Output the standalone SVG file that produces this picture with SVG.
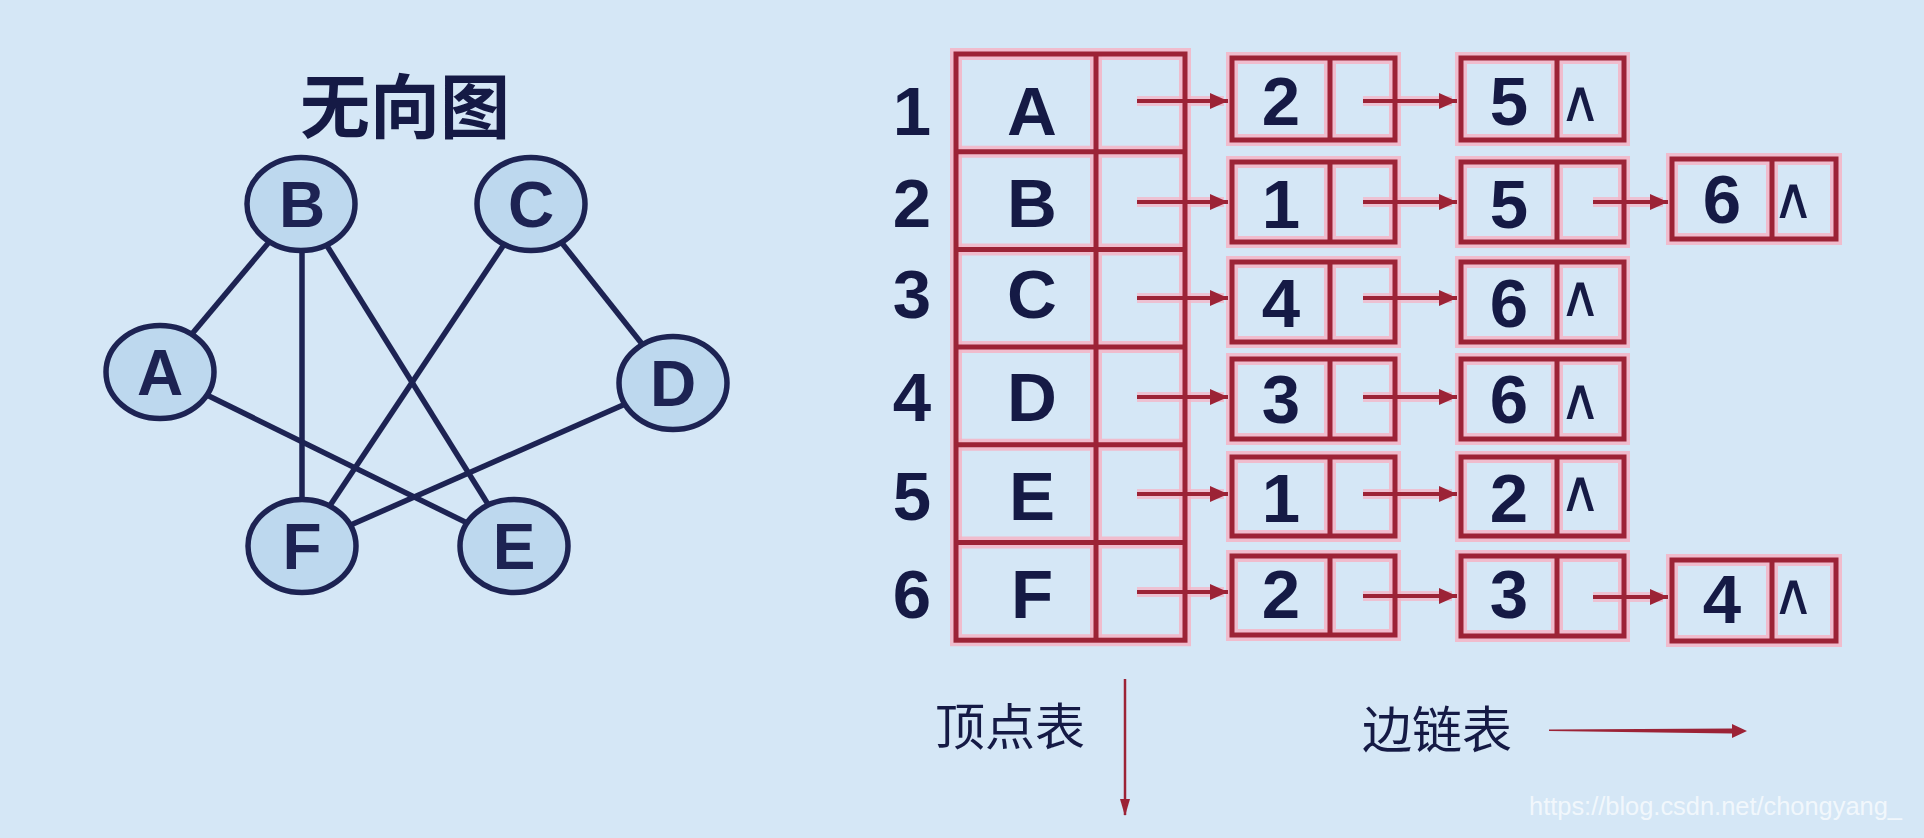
<svg xmlns="http://www.w3.org/2000/svg" width="1924" height="838" viewBox="0 0 1924 838">
<style>
.bg{fill:#d5e7f6}
.gedge{stroke:#1d2353;stroke-width:5.5;fill:none}
.gnode{fill:#bdd8ee;stroke:#1d2353;stroke-width:5.5}
.glbl{font-family:"Liberation Sans",Arial,sans-serif;font-weight:bold;font-size:64px;fill:#1d2353;text-anchor:middle}
.title{font-family:"Noto Sans CJK SC",sans-serif;font-weight:bold;font-size:70px;fill:#151a45;text-anchor:middle}
.halo{fill:none;stroke:#f4b4c5;stroke-width:12;stroke-opacity:0.85}
.cell{fill:none;stroke:#9c2336;stroke-width:5}
.txt{font-family:"Liberation Sans",Arial,sans-serif;font-weight:bold;font-size:69px;fill:#151a45;text-anchor:middle}
.nil{font-family:"DejaVu Sans",sans-serif;font-weight:200;font-size:58px;fill:#151a45;text-anchor:middle}
.ptr{stroke:#9c2336;stroke-width:4;fill:none;marker-end:url(#ah)}
.ptrhalo{stroke:#f4b4c5;stroke-width:10;stroke-opacity:0.75;fill:none}
.cap{font-family:"Noto Sans CJK SC",sans-serif;font-size:50px;fill:#151a45;text-anchor:middle}
.wm{font-family:"Liberation Sans",Arial,sans-serif;font-size:26px;fill:#ffffff;fill-opacity:0.7}
</style>
<defs>
<pattern id="stripes" width="14" height="14" patternUnits="userSpaceOnUse" patternTransform="rotate(-35)">
<rect width="14" height="14" fill="#d5e7f6"/>
<rect width="14" height="4" fill="#d0e3f3"/>
</pattern>
<marker id="ah" markerUnits="userSpaceOnUse" markerWidth="20" markerHeight="18" refX="18" refY="8" orient="auto">
<path d="M0,0 L18,8 L0,16 z" fill="#9c2336"/>
</marker>
<marker id="ahs" markerUnits="userSpaceOnUse" markerWidth="12" markerHeight="18" refX="5" refY="16" orient="0">
<path d="M0,0 L10,0 L5,17 z" fill="#9c2336"/>
</marker>
</defs>
<rect class="bg" x="0" y="0" width="1924" height="838" fill="url(#stripes)"/>

<text class="title" x="405" y="133">无向图</text>

<g id="glow">
<rect class="halo" x="956" y="54" width="229" height="586.2"/>
<path class="halo" d="M1096,54V640.2M956,151.7H1185M956,249.4H1185M956,347.1H1185M956,444.8H1185M956,542.5H1185"/>
<path class="halo" d="M1232,58h163v82h-163zM1330,58v82M1461,58h163v82h-163zM1557,58v82
M1232,162h163v80h-163zM1330,162v80M1461,162h163v80h-163zM1557,162v80M1672,159h164v80h-164zM1772,159v80
M1232,262h163v80h-163zM1330,262v80M1461,262h163v80h-163zM1557,262v80
M1232,359h163v80h-163zM1330,359v80M1461,359h163v80h-163zM1557,359v80
M1232,457h163v79h-163zM1330,457v79M1461,457h163v79h-163zM1557,457v79
M1232,556h163v79h-163zM1330,556v79M1461,556h163v80h-163zM1557,556v80M1672,560h164v81h-164zM1772,560v81"/>
<path class="ptrhalo" d="M1137,101H1224M1137,202H1224M1137,298H1224M1137,397H1224M1137,494H1224M1137,592H1224M1363,101H1452M1363,202H1452M1363,298H1452M1363,397H1452M1363,494H1452M1363,596H1452M1593,202H1663M1593,597H1663"/>
</g>

<g id="vertex-table">
<g id="vt-lines">
<rect class="cell" x="956" y="54" width="229" height="586.2"/>
<path class="cell" d="M1096,54V640.2M956,151.7H1185M956,249.4H1185M956,347.1H1185M956,444.8H1185M956,542.5H1185"/>
</g>
<g id="vt-row-1"><text class="txt" x="912" y="135">1</text><text class="txt" x="1032" y="135">A</text></g>
<g id="vt-row-2"><text class="txt" x="912" y="227">2</text><text class="txt" x="1032" y="227">B</text></g>
<g id="vt-row-3"><text class="txt" x="912" y="318">3</text><text class="txt" x="1032" y="318">C</text></g>
<g id="vt-row-4"><text class="txt" x="912" y="421">4</text><text class="txt" x="1032" y="421">D</text></g>
<g id="vt-row-5"><text class="txt" x="912" y="520">5</text><text class="txt" x="1032" y="520">E</text></g>
<g id="vt-row-6"><text class="txt" x="912" y="618">6</text><text class="txt" x="1032" y="618">F</text></g>
</g>

<g id="edge-nodes">
<g id="en-1-1"><rect class="cell" x="1232" y="58" width="163" height="82"/><line class="cell" x1="1330" y1="58" x2="1330" y2="140"/><text class="txt" x="1281" y="125">2</text></g>
<g id="en-1-2"><rect class="cell" x="1461" y="58" width="163" height="82"/><line class="cell" x1="1557" y1="58" x2="1557" y2="140"/><text class="txt" x="1509" y="125">5</text><text class="nil" x="1580" y="121">∧</text></g>
<g id="en-2-1"><rect class="cell" x="1232" y="162" width="163" height="80"/><line class="cell" x1="1330" y1="162" x2="1330" y2="242"/><text class="txt" x="1281" y="228">1</text></g>
<g id="en-2-2"><rect class="cell" x="1461" y="162" width="163" height="80"/><line class="cell" x1="1557" y1="162" x2="1557" y2="242"/><text class="txt" x="1509" y="228">5</text></g>
<g id="en-2-3"><rect class="cell" x="1672" y="159" width="164" height="80"/><line class="cell" x1="1772" y1="159" x2="1772" y2="239"/><text class="txt" x="1722" y="223">6</text><text class="nil" x="1793" y="218">∧</text></g>
<g id="en-3-1"><rect class="cell" x="1232" y="262" width="163" height="80"/><line class="cell" x1="1330" y1="262" x2="1330" y2="342"/><text class="txt" x="1281" y="327">4</text></g>
<g id="en-3-2"><rect class="cell" x="1461" y="262" width="163" height="80"/><line class="cell" x1="1557" y1="262" x2="1557" y2="342"/><text class="txt" x="1509" y="327">6</text><text class="nil" x="1580" y="316">∧</text></g>
<g id="en-4-1"><rect class="cell" x="1232" y="359" width="163" height="80"/><line class="cell" x1="1330" y1="359" x2="1330" y2="439"/><text class="txt" x="1281" y="423">3</text></g>
<g id="en-4-2"><rect class="cell" x="1461" y="359" width="163" height="80"/><line class="cell" x1="1557" y1="359" x2="1557" y2="439"/><text class="txt" x="1509" y="423">6</text><text class="nil" x="1580" y="419">∧</text></g>
<g id="en-5-1"><rect class="cell" x="1232" y="457" width="163" height="79"/><line class="cell" x1="1330" y1="457" x2="1330" y2="536"/><text class="txt" x="1281" y="522">1</text></g>
<g id="en-5-2"><rect class="cell" x="1461" y="457" width="163" height="79"/><line class="cell" x1="1557" y1="457" x2="1557" y2="536"/><text class="txt" x="1509" y="522">2</text><text class="nil" x="1580" y="511">∧</text></g>
<g id="en-6-1"><rect class="cell" x="1232" y="556" width="163" height="79"/><line class="cell" x1="1330" y1="556" x2="1330" y2="635"/><text class="txt" x="1281" y="618">2</text></g>
<g id="en-6-2"><rect class="cell" x="1461" y="556" width="163" height="80"/><line class="cell" x1="1557" y1="556" x2="1557" y2="636"/><text class="txt" x="1509" y="618">3</text></g>
<g id="en-6-3"><rect class="cell" x="1672" y="560" width="164" height="81"/><line class="cell" x1="1772" y1="560" x2="1772" y2="641"/><text class="txt" x="1722" y="623">4</text><text class="nil" x="1793" y="614">∧</text></g>
</g>

<g id="connectors">
<g id="graph-edges">
<line class="gedge" x1="160" y1="372" x2="301" y2="204"/>
<line class="gedge" x1="302" y1="204" x2="302" y2="546"/>
<line class="gedge" x1="301" y1="204" x2="514" y2="546"/>
<line class="gedge" x1="531" y1="204" x2="303" y2="546"/>
<line class="gedge" x1="531" y1="204" x2="673" y2="383"/>
<line class="gedge" x1="160" y1="372" x2="514" y2="546"/>
<line class="gedge" x1="673" y1="383" x2="303" y2="546"/>
</g>
<g id="list-pointers">
<line class="ptr" x1="1137" y1="101" x2="1228" y2="101"/>
<line class="ptr" x1="1137" y1="202" x2="1228" y2="202"/>
<line class="ptr" x1="1137" y1="298" x2="1228" y2="298"/>
<line class="ptr" x1="1137" y1="397" x2="1228" y2="397"/>
<line class="ptr" x1="1137" y1="494" x2="1228" y2="494"/>
<line class="ptr" x1="1137" y1="592" x2="1228" y2="592"/>
<line class="ptr" x1="1363" y1="101" x2="1457" y2="101"/>
<line class="ptr" x1="1363" y1="202" x2="1457" y2="202"/>
<line class="ptr" x1="1363" y1="298" x2="1457" y2="298"/>
<line class="ptr" x1="1363" y1="397" x2="1457" y2="397"/>
<line class="ptr" x1="1363" y1="494" x2="1457" y2="494"/>
<line class="ptr" x1="1363" y1="596" x2="1457" y2="596"/>
<line class="ptr" x1="1593" y1="202" x2="1668" y2="202"/>
<line class="ptr" x1="1593" y1="597" x2="1668" y2="597"/>
</g>
<g id="legend-arrows">
<line x1="1125" y1="679" x2="1125" y2="815" stroke="#9c2336" stroke-width="2.5" marker-end="url(#ahs)"/>
<path d="M1549,729.5 L1732,728.5 L1732,724 L1747,731 L1732,738 L1732,733.5 L1549,731 z" fill="#9c2336"/>
</g>
</g>

<g id="node-A"><ellipse class="gnode" cx="160" cy="372" rx="54" ry="46.5"/><text class="glbl" x="160" y="395">A</text></g>
<g id="node-B"><ellipse class="gnode" cx="301" cy="204" rx="54" ry="46.5"/><text class="glbl" x="302" y="227">B</text></g>
<g id="node-C"><ellipse class="gnode" cx="531" cy="204" rx="54" ry="46.5"/><text class="glbl" x="531" y="227">C</text></g>
<g id="node-D"><ellipse class="gnode" cx="673" cy="383" rx="54" ry="46.5"/><text class="glbl" x="673" y="406">D</text></g>
<g id="node-E"><ellipse class="gnode" cx="514" cy="546" rx="54" ry="46.5"/><text class="glbl" x="514" y="569">E</text></g>
<g id="node-F"><ellipse class="gnode" cx="302" cy="546" rx="54" ry="46.5"/><text class="glbl" x="302" y="569">F</text></g>

<g id="captions">
<text class="cap" x="1010" y="745">顶点表</text>
<text class="cap" x="1437" y="748">边链表</text>
</g>
<text class="wm" x="1529" y="815" textLength="373" lengthAdjust="spacingAndGlyphs">https://blog.csdn.net/chongyang_</text>
</svg>
